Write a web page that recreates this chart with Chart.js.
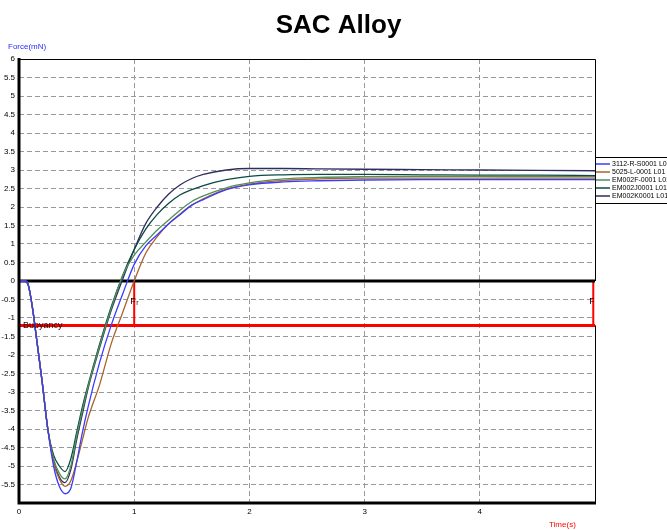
<!DOCTYPE html>
<html>
<head>
<meta charset="utf-8">
<script src="https://cdn.jsdelivr.net/npm/chart.js@4.4.1/dist/chart.umd.min.js"></script>
<style>
  html, body { margin: 0; padding: 0; background: #fff; }
  #wrap { width: 667px; height: 530px; }
</style>
</head>
<body>
<div id="wrap"><canvas id="forceChart" width="667" height="530"></canvas></div>
<script>
// DATA
const times = [0, 0.05, 0.08, 0.1, 0.125, 0.15, 0.2, 0.25, 0.3, 0.35, 0.4, 0.45, 0.5, 0.55, 0.6, 0.7, 0.8, 0.9, 1.0, 1.1, 1.2, 1.3, 1.4, 1.5, 1.6, 1.8, 2.0, 2.3, 2.6, 3, 3.5, 4, 4.5, 5]

const force3112 = [0, 0, -0.1, -0.4, -0.9, -1.5, -2.7, -4.0, -5.0, -5.55, -5.75, -5.6, -4.9, -4.1, -3.4, -2.2, -1.2, -0.35, 0.45, 0.95, 1.25, 1.55, 1.8, 2.05, 2.2, 2.47, 2.6, 2.68, 2.71, 2.73, 2.74, 2.74, 2.74, 2.74]
const force5025 = [0, 0, -0.1, -0.4, -0.9, -1.5, -2.7, -4.0, -4.9, -5.35, -5.55, -5.4, -4.9, -4.3, -3.7, -2.8, -1.7, -0.85, 0.0, 0.75, 1.2, 1.55, 1.82, 2.05, 2.22, 2.48, 2.62, 2.72, 2.76, 2.78, 2.78, 2.78, 2.78, 2.78]
const forceEM002F = [0, 0, -0.1, -0.4, -0.9, -1.5, -2.7, -4.0, -4.8, -5.2, -5.35, -5.0, -4.2, -3.5, -2.85, -1.75, -0.75, 0.15, 0.7, 1.05, 1.38, 1.65, 1.92, 2.15, 2.3, 2.52, 2.65, 2.76, 2.8, 2.82, 2.83, 2.83, 2.82, 2.82]
const forceEM002J = [0, 0, -0.1, -0.4, -0.9, -1.5, -2.7, -4.0, -4.7, -5.0, -5.15, -4.8, -4.1, -3.4, -2.8, -1.7, -0.7, 0.15, 0.85, 1.4, 1.8, 2.1, 2.33, 2.47, 2.58, 2.74, 2.83, 2.87, 2.88, 2.88, 2.87, 2.86, 2.86, 2.85]
const forceEM002K = [0, 0, -0.1, -0.4, -0.9, -1.5, -2.7, -4.0, -4.85, -5.3, -5.45, -5.1, -4.3, -3.6, -2.9, -1.8, -0.8, 0.05, 0.85, 1.55, 2.0, 2.35, 2.6, 2.77, 2.88, 3.0, 3.04, 3.04, 3.03, 3.02, 3.01, 3.0, 2.99, 2.98]

const seriesNames = ['3112-R-S0001 L01', '5025-L-0001 L01', 'EM002F-0001 L01', 'EM002J0001 L01', 'EM002K0001 L01']
const seriesColors = ['#3b3bff', '#a8642a', '#4f8f5a', '#0a4a42', '#2e2e5e']
const seriesValues = [force3112, force5025, forceEM002F, forceEM002J, forceEM002K]

const timeTicks = [0, 1, 2, 3, 4]
const buoyancy = -1.2
const frTimes = [1.0, 4.985]
const timeMax = 5

// DATASETS
const curveSets = seriesValues.map(function (vals, i) {
    return {
        label: seriesNames[i],
        data: vals.map(function (v, j) { return { x: times[j], y: v } }),
        borderColor: seriesColors[i],
        borderWidth: 1.3,
        pointRadius: 0,
        cubicInterpolationMode: 'monotone',
        fill: false,
    }
})

const refSets = [
    { label: 'zero', data: [{ x: 0, y: 0 }, { x: timeMax, y: 0 }], borderColor: '#000', borderWidth: 3 },
    { label: 'buoyancy', data: [{ x: 0, y: buoyancy }, { x: timeMax, y: buoyancy }], borderColor: '#ff0000', borderWidth: 3 },
].concat(frTimes.map(function (t) {
    return { label: 'fr', data: [{ x: t, y: 0 }, { x: t, y: buoyancy }], borderColor: '#ff0000', borderWidth: 2 }
})).map(function (d) { d.pointRadius = 0; return d })

// DRAWING EXTRAS
const extras = {
    id: 'extras',
    afterDatasetsDraw(chart) {
        const ctx = chart.ctx
        const a = chart.chartArea
        const xs = chart.scales.x
        const ys = chart.scales.y
        ctx.save()
        // frame
        ctx.strokeStyle = '#000'
        ctx.lineWidth = 1
        ctx.beginPath()
        ctx.moveTo(a.left, a.top + 0.5); ctx.lineTo(a.right + 0.5, a.top + 0.5); ctx.lineTo(a.right + 0.5, ys.getPixelForValue(0))
        ctx.moveTo(a.right + 0.5, ys.getPixelForValue(buoyancy)); ctx.lineTo(a.right + 0.5, a.bottom)
        ctx.stroke()
        ctx.lineWidth = 3
        ctx.beginPath()
        ctx.moveTo(a.left, a.top - 1); ctx.lineTo(a.left, a.bottom); ctx.lineTo(a.right + 1, a.bottom)
        ctx.stroke()

        // labels on lines, clipped to the plot like the source
        ctx.save()
        ctx.beginPath()
        ctx.rect(a.left, a.top, a.right - a.left - 1, a.bottom - a.top)
        ctx.clip()
        ctx.font = '9px "Liberation Sans", Arial, sans-serif'
        ctx.fillStyle = '#200'
        ctx.textBaseline = 'middle'
        ctx.fillText('Buoyancy', a.left + 4, ys.getPixelForValue(buoyancy))
        const frY = ys.getPixelForValue(-0.55)
        frTimes.forEach(function (t) {
            const px = xs.getPixelForValue(t)
            ctx.font = '9px "Liberation Sans", Arial, sans-serif'
            ctx.fillText('F', px - 4, frY)
            ctx.font = '7px "Liberation Sans", Arial, sans-serif'
            ctx.fillText('r', px + 2, frY + 2)
        })
        ctx.restore()

        // axis titles
        ctx.font = '8px "Liberation Sans", Arial, sans-serif'
        ctx.fillStyle = '#2a2aff'
        ctx.textBaseline = 'alphabetic'
        ctx.fillText('Force(mN)', 8, 49)
        ctx.fillStyle = '#ff0000'
        ctx.fillText('Time(s)', 549, 527)

        // title
        ctx.fillStyle = '#000'
        ctx.font = 'bold 26px "Liberation Sans", Arial, sans-serif'
        ctx.textAlign = 'center'
        ctx.fillText('SAC Alloy', 338.5, 33)
        ctx.restore()

        // legend, runs off the right edge like the source
        ctx.save()
        ctx.textAlign = 'left'
        ctx.fillStyle = '#fff'
        ctx.fillRect(a.right, 157, 80, 47)
        ctx.strokeStyle = '#000'
        ctx.lineWidth = 1
        ctx.strokeRect(a.right + 0.5, 157.5, 80, 46)
        ctx.font = '7px "Liberation Sans", Arial, sans-serif'
        ctx.textBaseline = 'middle'
        seriesNames.forEach(function (name, i) {
            const y = 164 + i * 8
            ctx.strokeStyle = seriesColors[i]
            ctx.lineWidth = 1.5
            ctx.beginPath()
            ctx.moveTo(a.right + 1, y); ctx.lineTo(a.right + 15, y)
            ctx.stroke()
            ctx.fillStyle = '#000'
            ctx.fillText(name, a.right + 17, y)
        })
        ctx.restore()
    }
}

// CHART
const config = {
    type: 'line',
    data: { datasets: curveSets.concat(refSets) },
    options: {
        responsive: false,
        animation: false,
        devicePixelRatio: 1,
        layout: { padding: { left: 0, right: 72, top: 59, bottom: 0 } },
        plugins: {
            legend: { display: false },
            title: { display: false },
            tooltip: { enabled: false },
        },
        scales: {
            x: {
                type: 'linear',
                min: 0,
                max: timeMax,
                afterFit: function (s) { s.height = 27 },
                afterBuildTicks: function (s) { s.ticks = timeTicks.map(function (v) { return { value: v } }) },
                ticks: {
                    font: { size: 8, family: '"Liberation Sans", Arial, sans-serif' },
                    color: '#000',
                    padding: 4,
                    maxRotation: 0,
                },
                grid: { color: '#9a9a9a', lineWidth: 1, drawTicks: false },
                border: { display: false, dash: [5, 3] },
            },
            y: {
                type: 'linear',
                min: -6,
                max: 6,
                afterFit: function (s) { s.width = 19 },
                ticks: {
                    stepSize: 0.5,
                    font: { size: 8, family: '"Liberation Sans", Arial, sans-serif' },
                    color: '#000',
                    padding: 4,
                    callback: function (v) { return v === -6 ? '' : String(v) },
                },
                grid: { color: '#9a9a9a', lineWidth: 1, drawTicks: false },
                border: { display: false, dash: [5, 3] },
            },
        },
    },
    plugins: [extras],
}

const forceChart = new Chart(document.getElementById('forceChart'), config)
</script>
</body>
</html>
